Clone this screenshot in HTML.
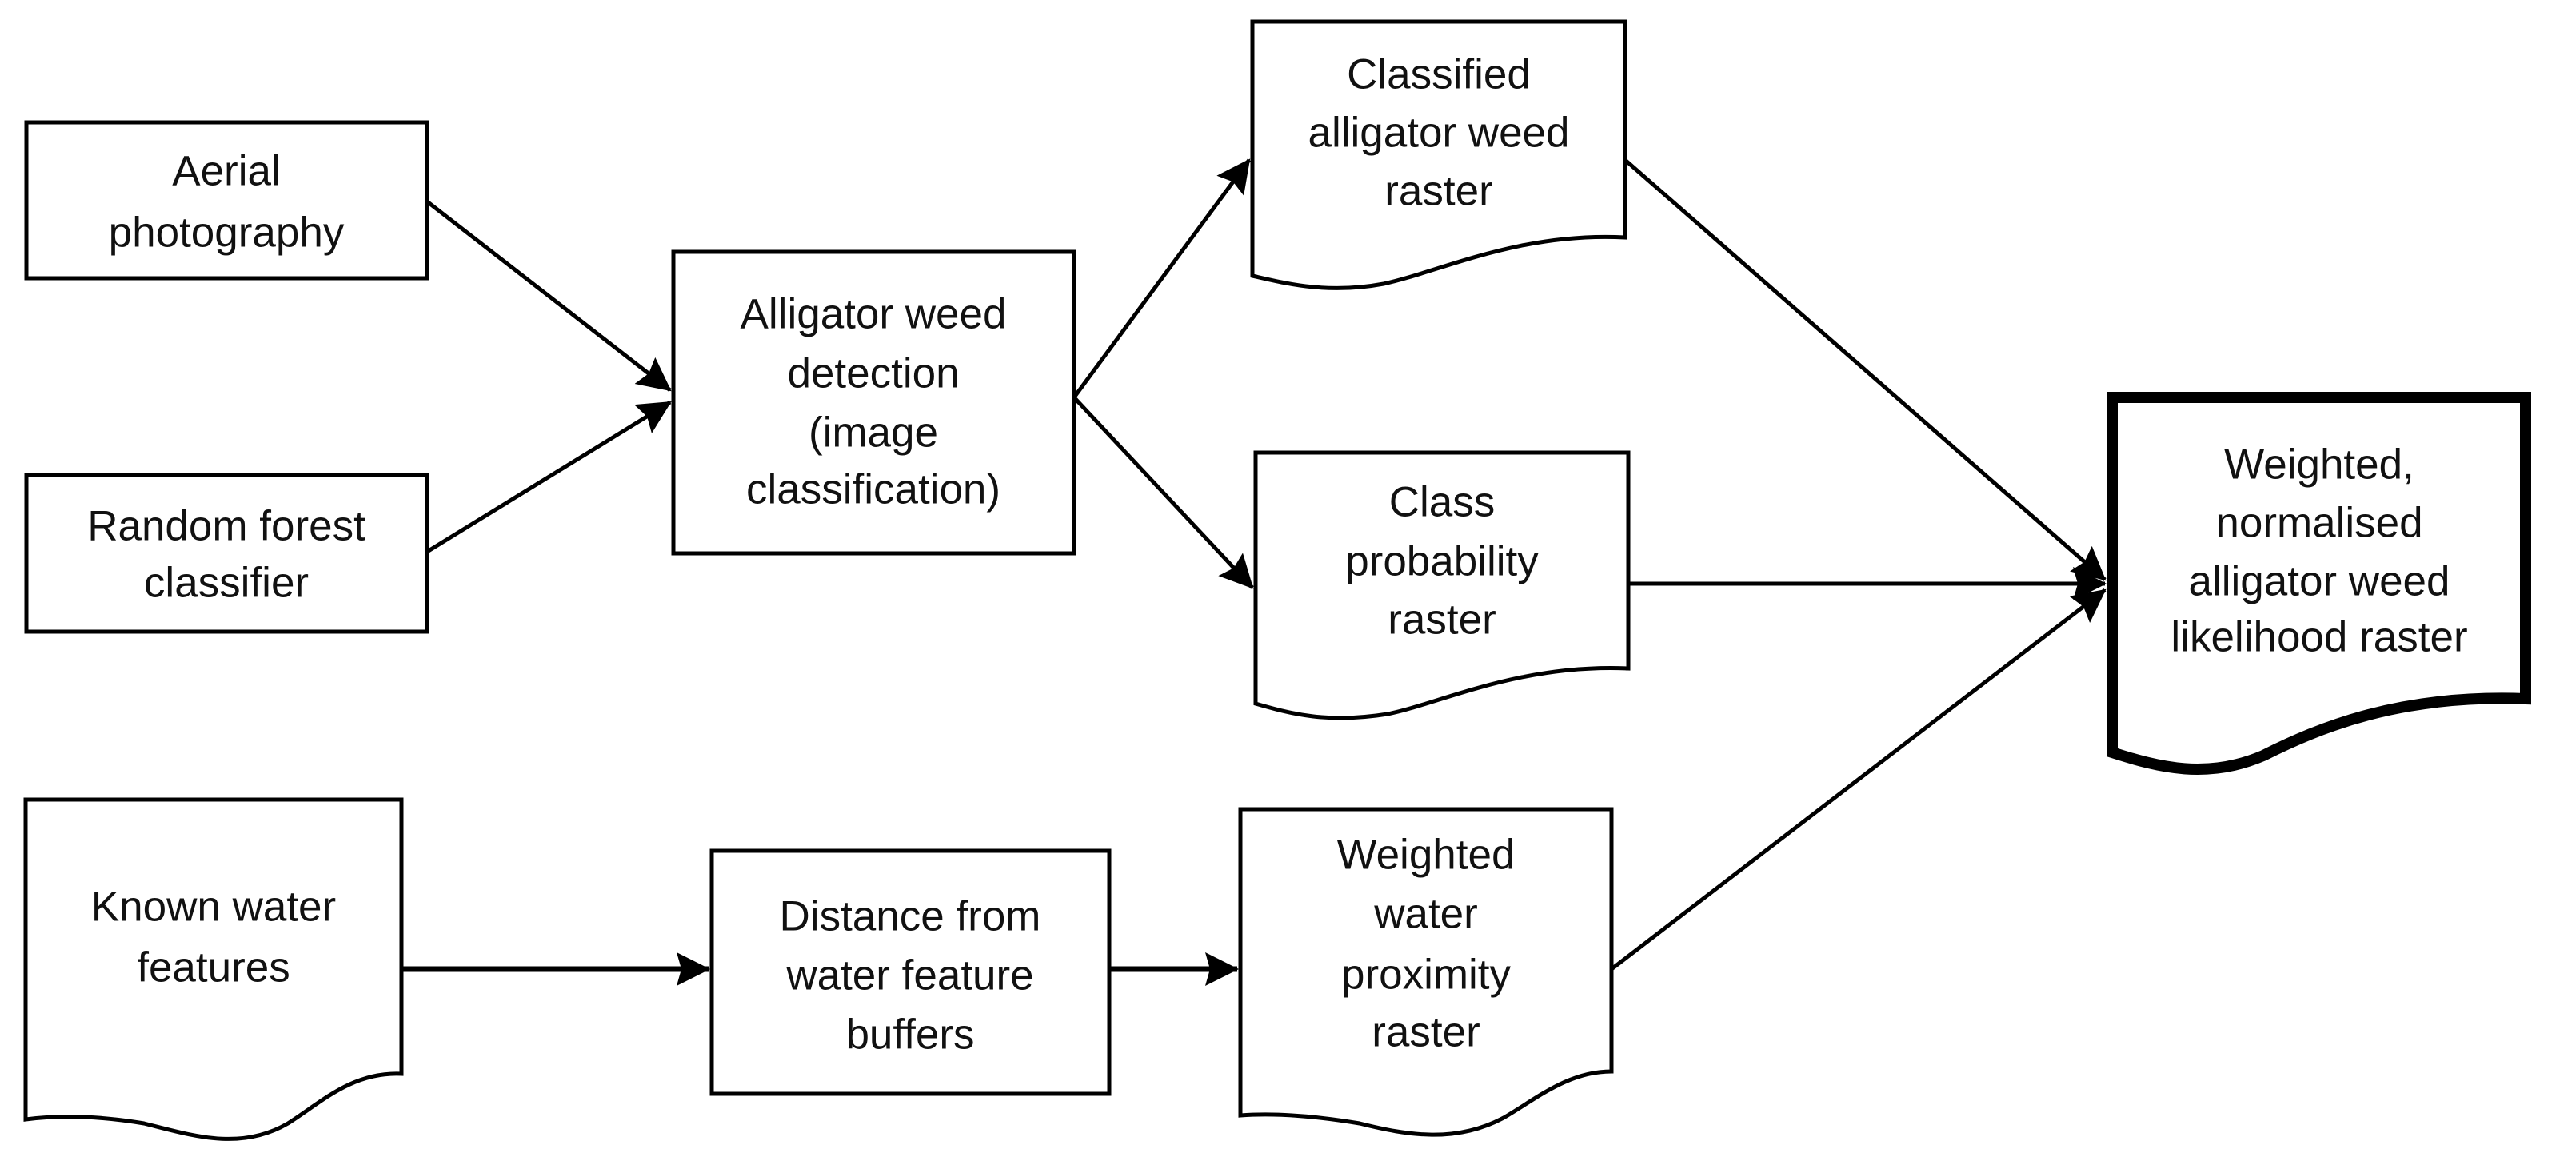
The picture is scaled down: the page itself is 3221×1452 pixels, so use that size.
<!DOCTYPE html>
<html><head><meta charset="utf-8"><style>
html,body{margin:0;padding:0;background:#fff;}
svg{display:block;}
text{font-family:"Liberation Sans Narrow","Liberation Sans",sans-serif;font-size:53px;fill:#111;text-anchor:middle;dominant-baseline:central;}
</style></head><body>
<svg width="3221" height="1452" viewBox="0 0 3221 1452" xmlns="http://www.w3.org/2000/svg">
<defs>
<marker id="a" markerUnits="userSpaceOnUse" markerWidth="46" markerHeight="46" refX="40" refY="21" orient="auto">
<path d="M0,0 L42,21 L0,42 L6,21 Z" fill="#000"/>
</marker>
</defs>
<g fill="#fff" stroke="#000" stroke-width="5">
<rect x="33" y="153" width="501" height="195"/>
<rect x="33" y="594" width="501" height="196"/>
<rect x="842" y="315" width="501" height="377"/>
<rect x="890" y="1064" width="497" height="304"/>
<path d="M1566,27 H2032 V297 C1900,290 1800,340 1730,355 C1660,368 1610,355 1566,345 Z"/>
<path d="M1570,566 H2036 V836 C1900,830 1800,880 1735,893 C1660,905 1615,893 1570,880 Z"/>
<path d="M32,1000 H502 V1343 C440,1340 400,1380 360,1405 C300,1440 240,1420 180,1405 C120,1395 70,1395 32,1400 Z"/>
<path d="M1551,1012 H2015 V1340 C1960,1340 1920,1375 1880,1398 C1820,1430 1760,1420 1700,1405 C1640,1395 1590,1392 1551,1395 Z"/>
<path d="M2641,497 H3158 V874 C3000,868 2900,910 2830,945 C2760,975 2700,960 2641,941 Z" stroke-width="14"/>
</g>
<g stroke="#000" stroke-width="5" fill="none">
<line x1="534" y1="252" x2="838" y2="488" marker-end="url(#a)"/>
<line x1="534" y1="690" x2="838" y2="503" marker-end="url(#a)"/>
<line x1="1343" y1="497" x2="1562" y2="200" marker-end="url(#a)"/>
<line x1="1343" y1="497" x2="1566" y2="735" marker-end="url(#a)"/>
<line x1="2032" y1="200" x2="2632" y2="725" marker-end="url(#a)"/>
<line x1="2036" y1="730" x2="2632" y2="730" marker-end="url(#a)"/>
<line x1="2015" y1="1212" x2="2632" y2="738" marker-end="url(#a)"/>
<line x1="502" y1="1212" x2="886" y2="1212" stroke-width="7" marker-end="url(#a)"/>
<line x1="1387" y1="1212" x2="1547" y2="1212" stroke-width="7" marker-end="url(#a)"/>
</g>
<text x="283" y="214">Aerial</text>
<text x="283" y="291">photography</text>
<text x="283" y="658">Random forest</text>
<text x="283" y="729">classifier</text>
<text x="1092" y="393">Alligator weed</text>
<text x="1092" y="467">detection</text>
<text x="1092" y="541">(image</text>
<text x="1092" y="612">classification)</text>
<text x="1799" y="93">Classified</text>
<text x="1799" y="166">alligator weed</text>
<text x="1799" y="239">raster</text>
<text x="1803" y="628">Class</text>
<text x="1803" y="702">probability</text>
<text x="1803" y="775">raster</text>
<text x="2900" y="581">Weighted,</text>
<text x="2900" y="654">normalised</text>
<text x="2900" y="727">alligator weed</text>
<text x="2900" y="797">likelihood raster</text>
<text x="267" y="1134">Known water</text>
<text x="267" y="1210">features</text>
<text x="1138" y="1146">Distance from</text>
<text x="1138" y="1220">water feature</text>
<text x="1138" y="1294">buffers</text>
<text x="1783" y="1069">Weighted</text>
<text x="1783" y="1143">water</text>
<text x="1783" y="1219">proximity</text>
<text x="1783" y="1291">raster</text>
</svg>
</body></html>
